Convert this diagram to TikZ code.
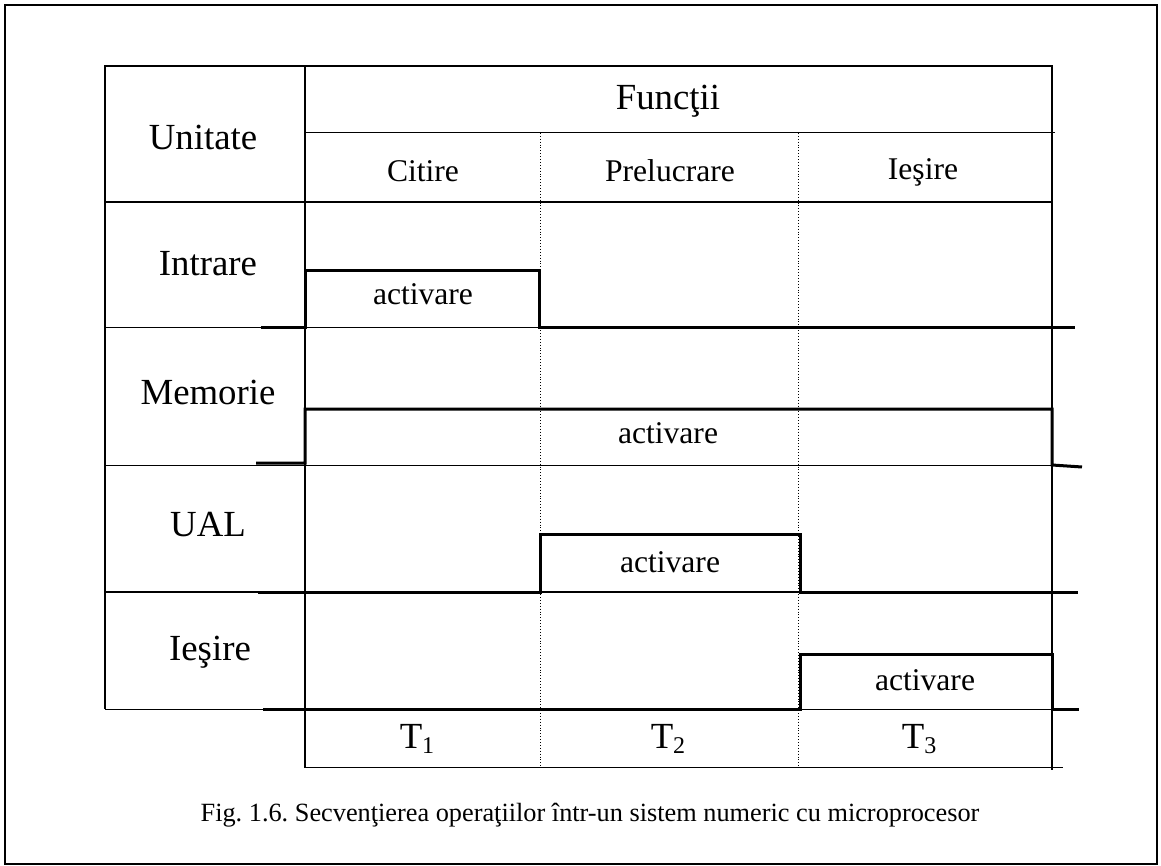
\documentclass[tikz,border=0pt]{standalone}
\usepackage{fontspec}
\setmainfont{Liberation Serif}
\newcommand{\tsub}[1]{\raisebox{-5pt}{\fontsize{24}{24}\selectfont #1}}
\begin{document}
\begin{tikzpicture}[x=1pt,y=-1pt,
  big/.style={font=\fontsize{36.8}{40}\selectfont, inner sep=0pt, anchor=base},
  mid/.style={font=\fontsize{31.6}{34}\selectfont, inner sep=0pt, anchor=base},
  captxt/.style={font=\fontsize{26.3}{28}\selectfont\frenchspacing, inner sep=0pt, anchor=base},
  frame/.style={line width=1.6pt},
  grid/.style={line width=1.3pt},
  thin/.style={line width=1.0pt},
  dot/.style={line width=0.9pt, dotted},
  sig/.style={line width=3pt, line join=miter}]
\useasboundingbox (0,0) rectangle (1161,866);
% outer frame
\draw[frame] (5,5) rectangle (1157,864);
% table
\draw[grid] (105,709) -- (105,66) -- (1052,66) -- (1052,770);
\draw[grid] (305,66) -- (305,767);
\draw[thin] (305,133) -- (1055,133);
\draw[grid] (105,202) -- (1052,202);
\draw[thin] (105,328) -- (1052,328);
\draw[thin] (105,465) -- (1052,465);
\draw[grid] (105,592) -- (1052,592);
\draw[thin] (105,709) -- (1052,709);
\draw[thin] (304,709) -- (304,767) -- (1063,767);
\draw[dot] (540,133) -- (540,767);
\draw[dot] (798,133) -- (798,767);
% signals
\draw[sig] (261,328) -- (305,328) -- (305,271) -- (539,271) -- (539,328) -- (1075,328);
\draw[sig] (256,463) -- (305,463) -- (305,409) -- (1052,409) -- (1052,465) -- (1082,467);
\draw[sig] (258,592) -- (540,592) -- (540,534) -- (800,534) -- (800,592) -- (1078,592);
\draw[sig] (263,709) -- (800,709) -- (800,654) -- (1052,654) -- (1052,709) -- (1079,709);
% header texts
\node[big] (unit) at (203,150) {Unitate};
\node[big] (func) at (668,110) {Funcţii};
\node[mid] (cit) at (423,182) {Citire};
\node[mid] (prel) at (670,182) {Prelucrare};
\node[mid] (ies) at (923,180) {Ieşire};
% row labels
\node[big] (intr) at (208,276) {Intrare};
\node[big] (mem) at (208,404) {Memorie};
\node[big] (ual) at (208,536) {UAL};
\node[big] (iesr) at (210,660) {Ieşire};
% activare
\node[mid] (a1) at (423,305) {activare};
\node[mid] (a2) at (668,443) {activare};
\node[mid] (a3) at (670,572) {activare};
\node[mid] (a4) at (925,690) {activare};
% T labels
\node[big] (t1) at (417,748) {T\tsub{1}};
\node[big] (t2) at (668,748) {T\tsub{2}};
\node[big] (t3) at (919,748) {T\tsub{3}};
% caption
\node[captxt] (capt) at (590,821) {Fig. 1.6. Secvenţierea operaţiilor într-un sistem numeric cu microprocesor};
\end{tikzpicture}
\end{document}
